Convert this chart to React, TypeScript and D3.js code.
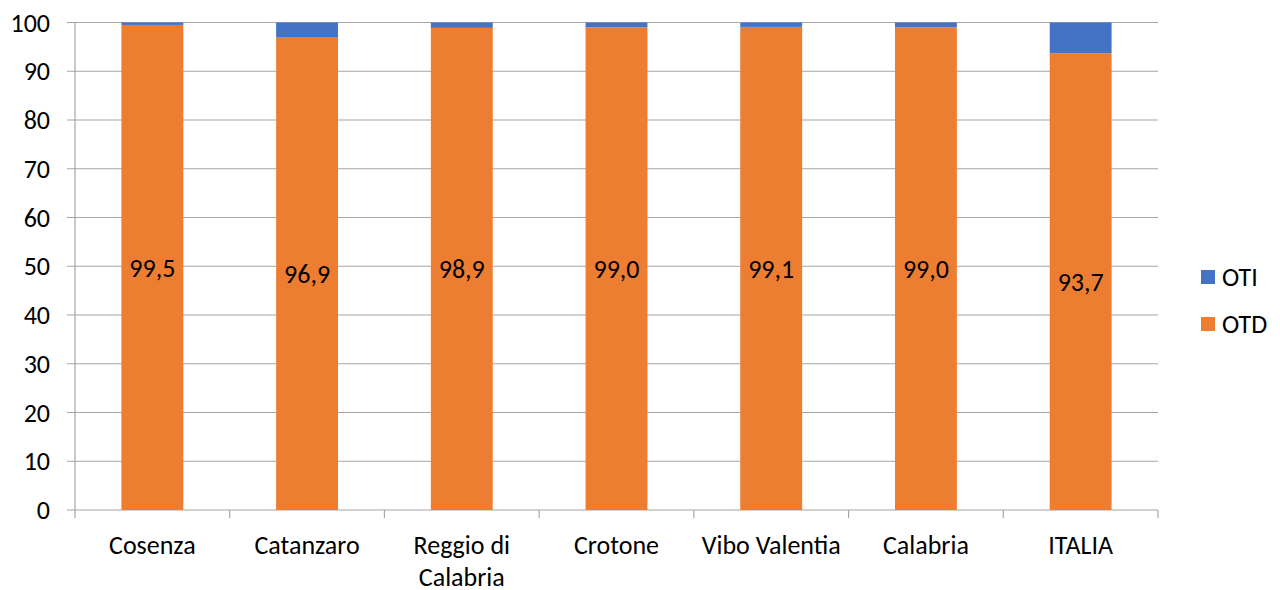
import React from "react";
import * as d3 from "d3";

const categories = ["Cosenza", "Catanzaro", "Reggio di Calabria", "Crotone", "Vibo Valentia", "Calabria", "ITALIA"];
const categoryLines = [["Cosenza"], ["Catanzaro"], ["Reggio di", "Calabria"], ["Crotone"], ["Vibo Valentia"], ["Calabria"], ["ITALIA"]];
const otdValues = [99.5, 96.9, 98.9, 99.0, 99.1, 99.0, 93.7];
const otiValues = [0.5, 3.1, 1.1, 1.0, 0.9, 1.0, 6.3];
const yTicks = [0, 10, 20, 30, 40, 50, 60, 70, 80, 90, 100];

const W = 1280;
const H = 590;
const left = 75;
const right = 1158;
const top = 22.5;
const bottom = 510;
const FONT = "Carlito, Calibri, Lato, 'Open Sans', sans-serif";
const FS = 26;
const ORANGE = "#ED7D31";
const BLUE = "#4472C4";
const GRID = "#A6A6A6";

export default function App() {
  const x = d3.scaleBand<string>().domain(categories).range([left, right]).paddingInner(0).paddingOuter(0);
  const y = d3.scaleLinear().domain([0, 100]).range([bottom, top]);
  const bw = x.bandwidth();
  const barW = bw * 0.4;

  return (
    <svg width={W} height={H} style={{ position: "absolute", left: 0, top: 0 }} fontFamily={FONT}>
      <rect width={W} height={H} fill="#fff" />
      {yTicks.map((t) => (
        <g key={t}>
          <line x1={left - 8} x2={right} y1={y(t)} y2={y(t)} stroke={GRID} strokeWidth={1.2} />
          <text x={50} y={y(t)} dy="0.35em" textAnchor="end" fontSize={FS} fill="#000">{t}</text>
        </g>
      ))}
      <line x1={left} x2={left} y1={top} y2={bottom} stroke={GRID} strokeWidth={1.2} />
      {categories.map((c, i) => (
        <line key={"t" + i} x1={x(c)!} x2={x(c)!} y1={bottom} y2={bottom + 8} stroke={GRID} strokeWidth={1.2} />
      ))}
      <line x1={right} x2={right} y1={bottom} y2={bottom + 8} stroke={GRID} strokeWidth={1.2} />
      {categories.map((c, i) => {
        const cx = x(c)! + bw / 2;
        const otd = otdValues[i];
        const oti = otiValues[i];
        return (
          <g key={c}>
            <rect x={cx - barW / 2} width={barW} y={y(otd)} height={y(0) - y(otd)} fill={ORANGE} />
            <rect x={cx - barW / 2} width={barW} y={y(otd + oti)} height={y(otd) - y(otd + oti)} fill={BLUE} />
            <text x={cx} y={y(otd / 2)} dy="0.35em" textAnchor="middle" fontSize={FS} fill="#000">
              {otd.toFixed(1).replace(".", ",")}
            </text>
            <text x={cx} y={545} textAnchor="middle" fontSize={FS} fill="#000">
              {categoryLines[i].map((ln, j) => (
                <tspan key={j} x={cx} dy={j === 0 ? "0.35em" : 32}>{ln}</tspan>
              ))}
            </text>
          </g>
        );
      })}
      <rect x={1201} y={270} width={14} height={14} fill={BLUE} />
      <text x={1222} y={277} dy="0.35em" fontSize={FS} fill="#000">OTI</text>
      <rect x={1201} y={317} width={14} height={14} fill={ORANGE} />
      <text x={1222} y={324} dy="0.35em" fontSize={FS} fill="#000">OTD</text>
    </svg>
  );
}
